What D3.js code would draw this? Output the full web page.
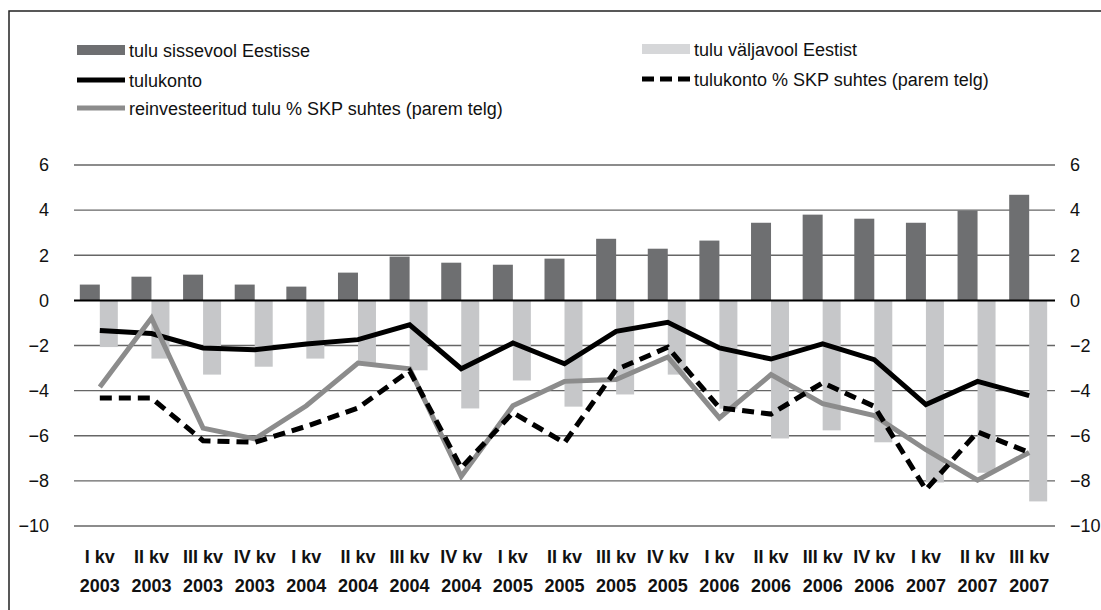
<!DOCTYPE html>
<html><head><meta charset="utf-8">
<script src="https://cdn.jsdelivr.net/npm/d3@7"></script>
<style>body{margin:0;background:#fff;}svg{display:block;font-family:"Liberation Sans",Arial,sans-serif;}</style>
</head><body>
<svg id="c" width="1101" height="610"></svg>
<script>
const quarters = ["I kv","II kv","III kv","IV kv","I kv","II kv","III kv","IV kv","I kv","II kv","III kv","IV kv","I kv","II kv","III kv","IV kv","I kv","II kv","III kv"];
const years = ["2003","2003","2003","2003","2004","2004","2004","2004","2005","2005","2005","2005","2006","2006","2006","2006","2007","2007","2007"];
const inflow = [0.70,1.05,1.14,0.70,0.61,1.23,1.94,1.67,1.58,1.85,2.73,2.29,2.65,3.44,3.80,3.62,3.44,3.98,4.68];
const outflow = [-2.07,-2.58,-3.29,-2.94,-2.58,-2.78,-3.10,-4.79,-3.55,-4.71,-4.17,-3.29,-4.80,-6.12,-5.76,-6.29,-8.07,-7.64,-8.91];
const incomeAccount = [-1.33,-1.47,-2.11,-2.19,-1.93,-1.74,-1.08,-3.03,-1.89,-2.81,-1.37,-0.97,-2.11,-2.60,-1.93,-2.63,-4.62,-3.59,-4.22];
const incomeAccountGdp = [-4.33,-4.33,-6.22,-6.29,-5.58,-4.77,-3.12,-7.42,-4.98,-6.31,-3.07,-2.08,-4.76,-5.04,-3.65,-4.70,-8.39,-5.83,-6.74];
const reinvestedGdp = [-3.84,-0.78,-5.66,-6.14,-4.67,-2.78,-3.03,-7.80,-4.67,-3.59,-3.51,-2.51,-5.21,-3.29,-4.58,-5.11,-6.62,-7.97,-6.74];
const yTicks = [6,4,2,0,-2,-4,-6,-8,-10];
const legendLabels = ["tulu sissevool Eestisse","tulu väljavool Eestist","tulukonto","tulukonto % SKP suhtes (parem telg)","reinvesteeritud tulu % SKP suhtes (parem telg)"];

const svg = d3.select("#c");
const L = 74, R = 1055, T = 165, B = 526;
const FS = 18;
const idx = d3.range(quarters.length);
const x = d3.scaleBand().domain(idx).range([L, R]);
const y = d3.scaleLinear().domain([-10, 6]).range([B, T]);
const yR = d3.scaleLinear().domain([-10, 6]).range([B, T]);

// frame
svg.append("rect").attr("x",9).attr("y",11).attr("width",1200).attr("height",700)
  .attr("fill","none").attr("stroke","#222").attr("stroke-width",1.5);

// gridlines
svg.append("g").selectAll("line").data(yTicks.filter(d=>d!==0)).join("line")
  .attr("x1",L).attr("x2",R).attr("y1",d=>y(d)).attr("y2",d=>y(d))
  .attr("stroke","#666").attr("stroke-width",1.3);

// left axis
const gl = svg.append("g").attr("transform",`translate(${L},0)`)
  .call(d3.axisLeft(y).tickValues(yTicks).tickSize(0).tickPadding(25).tickFormat(d3.format("d")));
gl.select(".domain").remove();
gl.selectAll("text").attr("font-size",FS).attr("fill","#111").style("font-family","Liberation Sans, Arial, sans-serif");
// right axis
const gr = svg.append("g").attr("transform",`translate(${R},0)`)
  .call(d3.axisRight(yR).tickValues(yTicks).tickSize(0).tickPadding(15).tickFormat(d3.format("d")));
gr.select(".domain").remove();
gr.selectAll("text").attr("font-size",FS).attr("fill","#111").style("font-family","Liberation Sans, Arial, sans-serif");

// bars
const bw = 20, bw2 = 18;
svg.append("g").selectAll("rect").data(idx).join("rect")
  .attr("x",i=>x(i)+x.bandwidth()/2-bw).attr("width",bw)
  .attr("y",i=>y(Math.max(0,inflow[i]))).attr("height",i=>Math.abs(y(inflow[i])-y(0)))
  .attr("fill","#6e6f71");
svg.append("g").selectAll("rect").data(idx).join("rect")
  .attr("x",i=>x(i)+x.bandwidth()/2).attr("width",bw2)
  .attr("y",y(0)).attr("height",i=>Math.abs(y(outflow[i])-y(0)))
  .attr("fill","#c6c7c9");

// zero line
svg.append("line").attr("x1",L).attr("x2",R).attr("y1",y(0)).attr("y2",y(0))
  .attr("stroke","#000").attr("stroke-width",2);

const cx = i => x(i)+x.bandwidth()/2;
function drawLine(data, scale, color, dash){
  const p = svg.append("path").datum(idx)
    .attr("d", d3.line().x(cx).y(i=>scale(data[i])))
    .attr("fill","none").attr("stroke",color).attr("stroke-width",5)
    .attr("stroke-linejoin","miter");
  if (dash) p.attr("stroke-dasharray",dash);
}
drawLine(incomeAccount, y, "#000", null);
drawLine(reinvestedGdp, yR, "#8c8c8c", null);
drawLine(incomeAccountGdp, yR, "#000", "12,7");

// category labels
const xl = svg.append("g");
xl.selectAll("text.q").data(idx).join("text").attr("class","q")
  .attr("x",cx).attr("y",563).attr("text-anchor","middle")
  .attr("font-size",FS).attr("font-weight","bold").attr("fill","#111").text(i=>quarters[i]);
xl.selectAll("text.yr").data(idx).join("text").attr("class","yr")
  .attr("x",cx).attr("y",592).attr("text-anchor","middle")
  .attr("font-size",FS).attr("font-weight","bold").attr("fill","#111").text(i=>years[i]);

// legend
const lg = svg.append("g").attr("font-size",FS).attr("fill","#111");
function legItem(xp, yp, label, type){
  if (type==="darkbar") lg.append("rect").attr("x",xp).attr("y",yp-5).attr("width",48).attr("height",10).attr("fill","#6e6f71");
  if (type==="lightbar") lg.append("rect").attr("x",xp).attr("y",yp-5).attr("width",48).attr("height",10).attr("fill","#d6d7d9");
  if (type==="black") lg.append("line").attr("x1",xp).attr("x2",xp+48).attr("y1",yp).attr("y2",yp).attr("stroke","#000").attr("stroke-width",5);
  if (type==="gray") lg.append("line").attr("x1",xp).attr("x2",xp+48).attr("y1",yp).attr("y2",yp).attr("stroke","#8c8c8c").attr("stroke-width",5);
  if (type==="dash") lg.append("line").attr("x1",xp).attr("x2",xp+48).attr("y1",yp).attr("y2",yp).attr("stroke","#000").attr("stroke-width",5).attr("stroke-dasharray","12,6");
  lg.append("text").attr("x",xp+52).attr("y",yp+7).text(label).attr("fill","#111");
}
legItem(77,50,legendLabels[0],"darkbar");
legItem(642,49,legendLabels[1],"lightbar");
legItem(77,80,legendLabels[2],"black");
legItem(642,79,legendLabels[3],"dash");
legItem(77,108,legendLabels[4],"gray");
</script>
</body></html>
